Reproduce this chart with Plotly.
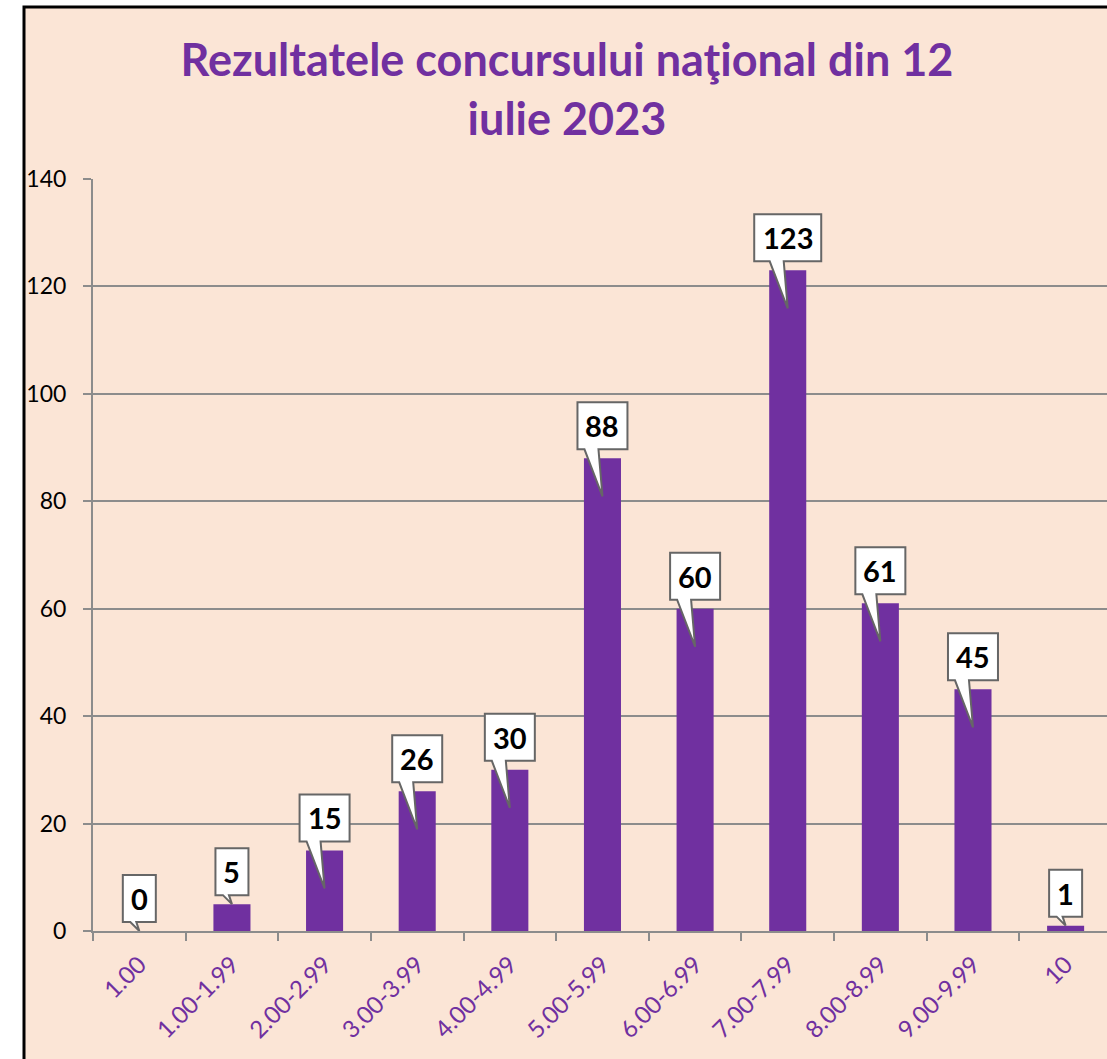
import plotly.graph_objects as go

categories = ["1.00", "1.00-1.99", "2.00-2.99", "3.00-3.99", "4.00-4.99", "5.00-5.99",
              "6.00-6.99", "7.00-7.99", "8.00-8.99", "9.00-9.99", "10"]
values = [0, 5, 15, 26, 30, 88, 60, 123, 61, 45, 1]
y_ticks = [0, 20, 40, 60, 80, 100, 120, 140]
title_text = "Rezultatele concursului naţional din 12<br>iulie 2023"

PURPLE = "#7030A0"
PEACH = "#FBE5D6"
GRID = "#8C8C8C"

W, H = 1107, 1059
ML, MR, MT, MB = 93, 0, 179, 128
plot_w = W - ML - MR
plot_h = H - MT - MB
x_max = -0.5 + plot_w / 92.63
ppx = plot_w / (x_max + 0.5)   # px per category
ppy = plot_h / 140.0           # px per unit

idx = list(range(len(categories)))

fig = go.Figure()
fig.add_trace(go.Bar(x=idx, y=values, width=0.4, marker=dict(color=PURPLE, line=dict(width=0)),
                     hoverinfo="skip"))

shapes = []
annotations = []
for i, v in zip(idx, values):
    n = len(str(v))
    bw = (16 + 17 * n) / ppx
    bot = v + 9 / ppy
    top = bot + 47 / ppy
    if v * ppy > 60:
        tip_y = v - 38 / ppy
        bl, br = i - 18 / ppx, i - 4 / ppx
    else:
        tip_y = v
        bl, br = i - 9 / ppx, i - 3 / ppx
    left, right = i - bw / 2, i + bw / 2
    path = (f"M {left},{bot} L {bl},{bot} L {i},{tip_y} L {br},{bot} "
            f"L {right},{bot} L {right},{top} L {left},{top} Z")
    shapes.append(dict(type="path", path=path, xref="x", yref="y",
                       fillcolor="white", line=dict(color="#666666", width=2), layer="above"))
    annotations.append(dict(x=i, y=(bot + top) / 2, xref="x", yref="y", text=f"<b>{v}</b>",
                            showarrow=False, font=dict(family="Lato", size=29, color="black"),
                            xanchor="center", yanchor="middle"))

# chart-area background with black border
x0p = (24 - ML) / plot_w
y1p = (plot_h + MT - 7) / plot_h
shapes.insert(0, dict(type="rect", xref="paper", yref="paper", x0=x0p, x1=1.2, y0=-0.5, y1=y1p,
                      fillcolor=PEACH, line=dict(color="black", width=3), layer="below"))

fig.update_layout(
    width=W, height=H,
    margin=dict(l=ML, r=MR, t=MT, b=MB),
    paper_bgcolor="white",
    plot_bgcolor="rgba(0,0,0,0)",
    showlegend=False,
    hovermode=False,
    title=dict(text=f"<b>{title_text}</b>", x=567 / W, xanchor="center", xref="container",
               y=1 - 76 / H, yanchor="top", yref="container",
               font=dict(family="Lato", size=45, color=PURPLE)),
    shapes=shapes,
    annotations=annotations,
    xaxis=dict(range=[-0.5, x_max], tickmode="array", tickvals=idx, ticktext=categories,
               tickangle=-45, ticks="", showgrid=False, zeroline=False,
               showline=True, linecolor=GRID, linewidth=2, ticklabelstandoff=8,
               tickfont=dict(family="Lato", size=24, color=PURPLE),
               minor=dict(tickmode="linear", tick0=-0.5, dtick=1, ticks="outside",
                          ticklen=8, tickwidth=2, tickcolor=GRID, showgrid=False)),
    yaxis=dict(range=[0, 140], tickvals=y_ticks, ticks="outside", ticklen=8, tickwidth=2,
               tickcolor=GRID, showgrid=True, gridcolor=GRID, gridwidth=2,
               zeroline=False, showline=True, linecolor=GRID, linewidth=2,
               ticklabelstandoff=12,
               tickfont=dict(family="Lato", size=23, color="black")),
    bargap=0.6,
)

fig.write_html("out.html", config={"displayModeBar": False},
               post_script="document.body.style.margin='0';document.body.style.overflow='hidden';")
